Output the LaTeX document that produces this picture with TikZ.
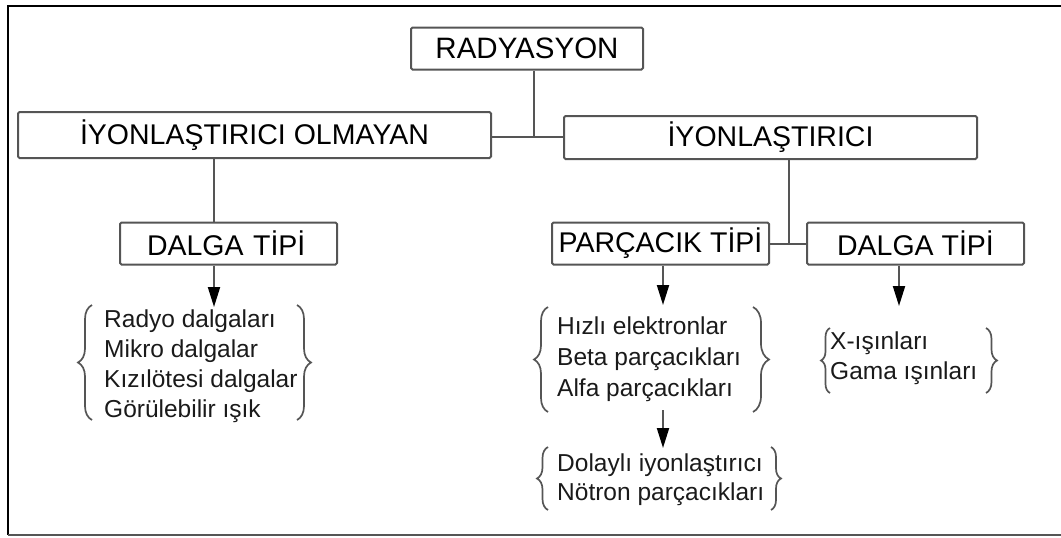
\documentclass[tikz,border=0pt]{standalone}
\usepackage{fontspec}
\setmainfont{Liberation Sans}
\usetikzlibrary{positioning,decorations.pathreplacing,arrows.meta}
\definecolor{ln}{HTML}{555555}
\definecolor{txt}{HTML}{1A1A1A}

\begin{document}
\begin{tikzpicture}[x=1pt,y=-1pt,
  box/.style={draw=ln,line width=2pt,rounded corners=1.5pt,minimum height=42pt,inner sep=0pt,font=\fontsize{28.5}{32}\selectfont},
  lst/.style={align=left,inner sep=0pt,anchor=north west,text=txt,font=\fontsize{24.5}{29.7}\selectfont},
  brc/.style={draw=ln,line width=1.7pt,decorate,decoration={brace,amplitude=#1}},
  brc/.default=14pt,
  arr/.style={draw=ln,line width=2pt,-{Triangle[length=20pt,width=12pt,color=black]}},
  con/.style={draw=ln,line width=2pt}]
  \useasboundingbox (0,0) rectangle (1061,538);
  % frame
  \draw[line width=2pt] (1061,6) -- (8,6) -- (8,535);
  \draw[ln,line width=2pt] (8,535) -- (1061,535);

  % boxes
  \node[box,minimum width=232pt,font=\fontsize{29.5}{32}\selectfont] (rad) at (527,48.5) {RADYASYON};
  \node[box,minimum width=473pt,minimum height=46pt] (iyo) at (254.5,135) {İYONLAŞTIRICI OLMAYAN};
  \node[box,minimum width=413pt,minimum height=43pt] (iyn) at (770.5,137.5) {İYONLAŞTIRICI};
  \node[box,minimum width=217pt,text width=203pt,align=left,inner xsep=7pt] (dlg1) at (228.5,243.5) {\hspace*{20pt}DALGA TİPİ};
  \node[box,minimum width=217pt] (prc) at (660.5,243.5) {PARÇACIK TİPİ};
  \node[box,minimum width=217pt] (dlg2) at (915.5,243.5) {DALGA TİPİ};

  % lists
  \node[lst] (l1) at (104,310) {Radyo dalgaları\\Mikro dalgalar\\Kızılötesi dalgalar\\Görülebilir ışık};
  \node[lst,font=\fontsize{24.5}{31}\selectfont] (l2) at (557,317) {Hızlı elektronlar\\Beta parçacıkları\\Alfa parçacıkları};
  \node[lst,font=\fontsize{24.5}{28.5}\selectfont] (l3) at (557,454) {Dolaylı iyonlaştırıcı\\Nötron parçacıkları};
  \node[lst,font=\fontsize{24.5}{30}\selectfont] (l4) at (830,332) {X-ışınları\\Gama ışınları};

  % braces
  \draw[brc] (92,420) -- (92,305);
  \draw[brc] (297,305) -- (297,420);
  \draw[brc] (548,412) -- (548,307);
  \draw[brc=16pt] (753,307) -- (753,412);
  \draw[brc=11pt] (548,510) -- (548,447);
  \draw[brc=10pt] (771,447) -- (771,510);
  \draw[brc=9pt] (830,393) -- (830,328);
  \draw[brc=11pt] (986,328) -- (986,393);

  % connectors
  \coordinate (j1) at (534,137);
  \coordinate (j2) at (789,243.5);
  \coordinate (a1) at (214,307);
  \coordinate (a2) at (663,305);
  \coordinate (b2) at (663,410);
  \coordinate (a3) at (663,448);
  \coordinate (a4) at (899,306);
  \draw[con] (rad.south -| j1) -- (j1);
  \draw[con] (iyo.east |- j1) -- (iyn.west |- j1);
  \draw[con] (iyo.south -| a1) -- (dlg1.north -| a1);
  \draw[arr] (dlg1.south -| a1) -- (a1);
  \draw[con] (iyn.south -| j2) -- (j2);
  \draw[con] (prc.east) -- (dlg2.west);
  \draw[arr] (prc.south -| a2) -- (a2);
  \draw[arr] (b2) -- (a3);
  \draw[arr] (dlg2.south -| a4) -- (a4);
\end{tikzpicture}
\end{document}
